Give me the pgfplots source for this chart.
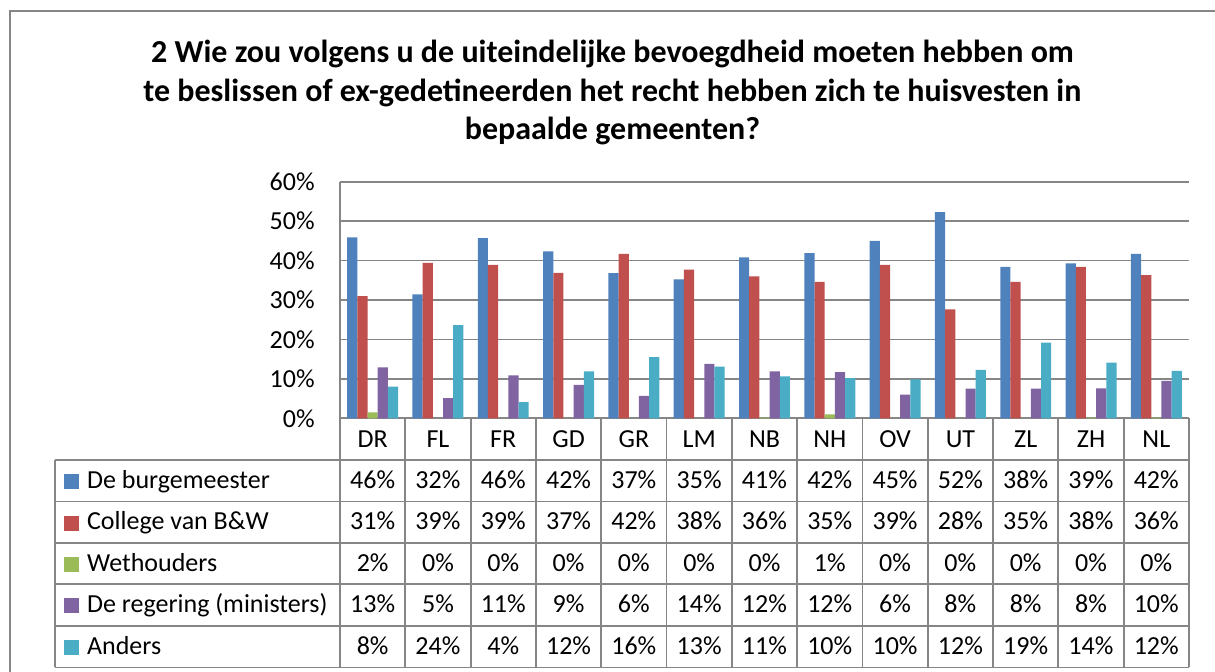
\documentclass[border=0pt]{standalone}
\usepackage{fontspec}
\setmainfont{Carlito}
\usepackage{pgfplots}
\usepackage{pgfplotstable}
\pgfplotsset{compat=1.18}

\definecolor{cBlue}{HTML}{4F81BD}
\definecolor{cRed}{HTML}{C0504D}
\definecolor{cGreen}{HTML}{9BBB59}
\definecolor{cPurple}{HTML}{8064A2}
\definecolor{cCyan}{HTML}{4BACC6}
\definecolor{lgray}{HTML}{868686}

% bar heights (percent)
\pgfplotstableread{
cat burg coll weth rege anders
0  45.9 31.0 1.5 12.9  8.0
1  31.4 39.4 0.0  5.1 23.6
2  45.7 38.9 0.0 10.9  4.1
3  42.3 36.9 0.0  8.5 11.9
4  36.8 41.7 0.0  5.7 15.5
5  35.2 37.7 0.0 13.8 13.1
6  40.8 36.0 0.2 11.9 10.6
7  41.9 34.6 1.0 11.7 10.2
8  45.0 38.9 0.0  6.0  9.9
9  52.3 27.6 0.0  7.5 12.3
10 38.4 34.6 0.0  7.5 19.2
11 39.3 38.4 0.2  7.6 14.1
12 41.7 36.3 0.2  9.5 12.0
}\data

\newcommand{\tfont}{\fontsize{13}{15.5}\selectfont}

\begin{document}
\begin{tikzpicture}
\begin{axis}[
  scale only axis,
  width=424.5pt, height=118.3pt,
  xmin=-0.5, xmax=12.5, ymin=0, ymax=60,
  ybar=0pt, bar width=0.156,
  xtick={0,...,12},
  xticklabels={DR,FL,FR,GD,GR,LM,NB,NH,OV,UT,ZL,ZH,NL},
  ytick={0,10,...,60},
  yticklabel={\pgfmathprintnumber{\tick}\%},
  ymajorgrids,
  grid style={lgray, line width=0.9pt},
  axis x line*=bottom, axis y line*=left,
  axis line style={lgray, line width=0.9pt},
  major tick length=0pt,
  tick label style={font=\tfont, inner sep=0pt},
  yticklabel style={anchor=east, xshift=-12.5pt},
  xticklabel style={anchor=base, yshift=-14.5pt},
  /pgf/number format/assume math mode=true,
  clip=false,
]
\addplot[fill=cBlue, draw=none] table[x=cat, y=burg] {\data};
\addplot[fill=cRed, draw=none] table[x=cat, y=coll] {\data};
\addplot[fill=cGreen, draw=none] table[x=cat, y=weth] {\data};
\addplot[fill=cPurple, draw=none] table[x=cat, y=rege] {\data};
\addplot[fill=cCyan, draw=none] table[x=cat, y=anders] {\data};
\end{axis}

% everything below in screen pixels, y downwards, origin = top left of image
\begin{scope}[x=0.5pt, y=-0.5pt, xshift=-170pt, yshift=209.15pt]
  \useasboundingbox (0,0) rectangle (1215,672);
  % outer frame
  \draw[lgray, line width=0.9pt] (10,672) -- (10,11) -- (1215,11);

  % title
  \begin{scope}[every node/.style={anchor=base, inner sep=0pt, font=\bfseries\fontsize{16}{19}\selectfont}]
    \node at (612.5,62.7) {2 Wie zou volgens u de uiteindelijke bevoegdheid moeten hebben om};
    \node at (612.5,101.2) {te beslissen of ex-gedetineerden het recht hebben zich te huisvesten in};
    \node at (612.5,139.7) {bepaalde gemeenten?};
  \end{scope}

  % data table grid
  \begin{scope}[lgray, line width=0.9pt]
    \foreach \yy in {460,501.5,543,584.3,625.7,667.5}
      \draw (55,\yy) -- (1189,\yy);
    \draw (55,460) -- (55,667.5);
    \foreach \k in {0,...,13}
      \draw ({340+65.3*\k},418.3) -- ({340+65.3*\k},667.5);
  \end{scope}

  % legend keys and series names
  \begin{scope}[every node/.style={anchor=base west, inner sep=0pt, font=\tfont}]
    \foreach \nm/\cl/\yy in {De burgemeester/cBlue/480.75,
                            College van B\&W/cRed/522.25,
                            Wethouders/cGreen/563.65,
                            De regering (ministers)/cPurple/605,
                            Anders/cCyan/646.6} {
      \fill[\cl] (64,\yy-6.5) rectangle (79,\yy+8.5);
      \node at (86.7,\yy+7.5) {\nm};
    }
  \end{scope}

  % table values
  \begin{scope}[every node/.style={anchor=base, inner sep=0pt, font=\tfont}]
    \foreach \v [count=\i from 0] in {46,32,46,42,37,35,41,42,45,52,38,39,42}
      \node at ({340+65.3*(\i+0.5)},488.25) {\v\%};
    \foreach \v [count=\i from 0] in {31,39,39,37,42,38,36,35,39,28,35,38,36}
      \node at ({340+65.3*(\i+0.5)},529.75) {\v\%};
    \foreach \v [count=\i from 0] in {2,0,0,0,0,0,0,1,0,0,0,0,0}
      \node at ({340+65.3*(\i+0.5)},571.15) {\v\%};
    \foreach \v [count=\i from 0] in {13,5,11,9,6,14,12,12,6,8,8,8,10}
      \node at ({340+65.3*(\i+0.5)},612.5) {\v\%};
    \foreach \v [count=\i from 0] in {8,24,4,12,16,13,11,10,10,12,19,14,12}
      \node at ({340+65.3*(\i+0.5)},654.1) {\v\%};
  \end{scope}
\end{scope}
\end{tikzpicture}
\end{document}
